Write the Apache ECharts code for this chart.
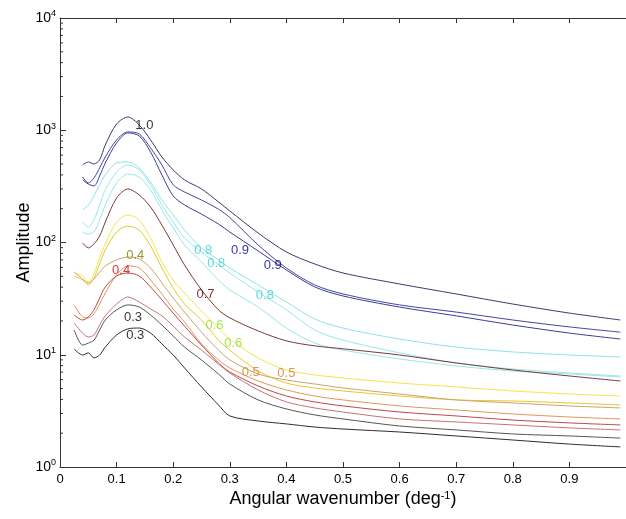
<!DOCTYPE html>
<html>
<head>
<meta charset="utf-8">
<script src="https://cdn.jsdelivr.net/npm/echarts@6/dist/echarts.min.js"></script>
<style>html,body{margin:0;padding:0;background:#fff}#c{width:626px;height:519px}</style>
</head>
<body>
<div id="c"></div>
<script>
// wavenumber grid (deg^-1)
const X = [0.025,0.04,0.05,0.06,0.07,0.08,0.10,0.12,0.14,0.16,0.18,0.20,0.22,0.25,0.28,0.30,0.35,0.40,0.45,0.50,0.60,0.70,0.80,0.90,0.99];
// amplitude series
const s10  = [null,491,522,501,544,740,1137,1313,1114,820,578,443,361,300,230,191,121.5,82.4,64.4,53.5,42.7,34.8,28.3,23.5,20.4];
const s09a = [null,383,339,376,461,578,820,966,927,696,491,326,282,239,198,167,95.1,59.3,41.9,34.8,27.8,24.0,20.4,17.7,15.9];
const s09b = [null,361,332,319,391,511,771,946,890,641,400,260,216,179,146,124,84.1,56.9,40.2,33.4,26.6,22.2,18.4,15.6,13.8];
const s08a = [null,195,216,260,326,400,511,522,461,346,239,176,129,89.4,69.9,59.3,41.9,29.5,20.8,17.3,13.8,11.7,10.6,9.95,9.56];
const s08b = [null,152,137,159,216,294,425,491,443,326,216,152,110,82.4,63.1,53.5,36.2,25.1,16.6,13.5,10.4,8.45,7.47,6.88,6.47];
const s08c = [null,124,119,124,159,216,339,408,383,294,195,135,95.1,67.1,46.4,37.8,26.6,17.3,12.7,11.0,9.17,7.95,7.17,6.74,6.34];
const s07  = [null,99.1,89.4,97.1,114,152,249,300,265,207,143,95.1,63.1,37.8,25.1,21.3,16.3,13.3,12.0,11.3,9.95,8.45,7.32,6.47,5.84];
const s06a = [53.5,50.3,44.5,52.5,72.8,97.1,152,176,159,110,67.1,46.4,35.5,24.5,17.3,13.8,9.37,7.32,6.61,6.21,5.60,5.17,4.76,4.47,4.29];
const s06b = [50.3,46.4,41.9,48.3,64.4,85.8,124,140,129,93.2,59.3,39.3,28.3,20.4,13.5,11.0,7.17,5.60,5.06,4.76,4.29,3.96,3.87,3.72,3.57];
const s04a = [54.6,47.3,43.6,47.3,54.6,61.8,69.9,74.3,71.4,59.3,43.6,32.0,24.0,15.9,11.0,8.99,6.74,5.96,5.49,5.06,4.47,3.96,3.72,3.50,3.36];
const s05a = [27.8,21.7,21.3,23.1,28.3,35.5,51.4,61.8,59.3,46.4,34.8,25.6,19.6,12.5,8.99,7.63,5.84,4.86,4.29,3.96,3.50,3.22,2.97,2.79,2.68];
const s04b = [22.6,20.4,21.7,25.1,32.0,40.2,50.3,53.5,50.3,40.2,30.8,23.5,18.0,12.2,8.45,7.03,5.27,4.29,3.80,3.50,3.09,2.85,2.62,2.47,2.37];
const s05b = [19.2,15.6,14.4,15.0,18.4,22.2,28.3,32.7,29.5,25.6,22.2,18.0,14.4,11.0,8.28,6.88,4.86,3.80,3.36,3.09,2.68,2.52,2.37,2.23,2.14];
const s03a = [16.6,12.2,12.7,13.5,16.6,20.4,25.1,27.8,26.6,22.6,18.4,14.7,11.7,8.99,6.74,5.49,3.96,3.29,2.91,2.68,2.32,2.14,1.97,1.89,1.81];
const s03b = [11.25,9.95,10.4,9.37,9.95,11.7,15.0,17.0,17.3,15.6,12.5,9.95,7.63,5.17,3.57,2.85,2.57,2.42,2.27,2.18,2.05,1.89,1.74,1.60,1.51];

// contour-style labels: text, x, amplitude
const labelText = ['1.0','0.9','0.9','0.8','0.8','0.8','0.7','0.6','0.6','0.5','0.5','0.4','0.4','0.3','0.3'];
const labelX    = [0.149,0.318,0.376,0.253,0.276,0.362,0.257,0.273,0.306,0.337,0.400,0.133,0.108,0.129,0.133];
const labelY    = [1114,85.8,63.1,85.8,65.7,34.1,34.8,18.4,12.5,7.03,6.88,77.5,56.9,21.3,15.0];

const xTicks = [0,0.1,0.2,0.3,0.4,0.5,0.6,0.7,0.8,0.9];
const yDecades = [1,10,100,1000];
const minorMult = [2,3,4,5,6,7,8,9];

const lineDefs = [
  [s10,'#3b3b6e'],[s09a,'#4444a0'],[s09b,'#3c3c96'],
  [s08a,'#8fe3e6'],[s08b,'#96e8ea'],[s08c,'#9ae6e8'],
  [s07,'#7a3838'],[s06a,'#f4e64c'],[s06b,'#e8c828'],
  [s04a,'#caa46e'],[s05a,'#e0975a'],[s04b,'#b84a48'],
  [s05b,'#c47474'],[s03a,'#555555'],[s03b,'#2e2e2e']
];
const labelColor = ['#000000','#000090','#000090','#33d0d0','#33d0d0','#33d0d0','#600000','#8ee028','#8ee028','#d08028','#d08028','#808000','#e00000','#000000','#000000'];

const FONT = 'Liberation Sans, Arial, sans-serif';

const series = lineDefs.map(([vals,col]) => ({
  type:'line', xAxisIndex:0, yAxisIndex:0, smooth:0.3, showSymbol:false, silent:true,
  lineStyle:{color:col,width:1}, z:3,
  data: X.map((x,i)=> vals[i]==null ? null : [x, vals[i]]).filter(d=>d)
}));

series.push({
  type:'scatter', symbolSize:0, silent:true, z:5,
  data: labelText.map((t,i)=>({name:t, value:[labelX[i],labelY[i]],
    label:{show:true, formatter:t, position:'inside', color:labelColor[i], fontSize:13, fontFamily:FONT}}))
});

// minor log ticks on the left axis
const minorVals = [];
yDecades.forEach(d => minorMult.forEach(m => minorVals.push(m*d)));
series.push({
  type:'custom', silent:true, z:6, clip:false,
  data: minorVals.map(v=>[0,v]),
  renderItem:(params, api) => {
    const p = api.coord([api.value(0), api.value(1)]);
    return {type:'line', shape:{x1:p[0], y1:p[1], x2:p[0]+3, y2:p[1]}, style:{stroke:'#333', lineWidth:1}};
  }
});

const chart = echarts.init(document.getElementById('c'), null, {renderer:'canvas'});
chart.setOption({
  backgroundColor:'#ffffff',
  animation:false,
  grid:{left:60, top:18, right:-6, bottom:52, containLabel:false},
  xAxis:[{
    type:'value', min:0, max:1, interval:0.1, position:'bottom',
    axisLine:{show:true, lineStyle:{color:'#333', width:1}},
    axisTick:{show:true, inside:true, length:5, lineStyle:{color:'#333'}},
    splitLine:{show:false},
    axisLabel:{color:'#000', fontSize:13, fontFamily:FONT, margin:6,
      customValues: xTicks, formatter:v=> String(v)},
    name:'Angular wavenumber (deg{s|-1})', nameLocation:'middle', nameGap:23, nameMoveOverlap:false,
    nameTextStyle:{color:'#000', fontSize:18, fontFamily:FONT,
      rich:{s:{fontSize:11, fontFamily:FONT, color:'#000', verticalAlign:'top', padding:[0,0,8,0]}}}
  },{
    type:'value', min:0, max:1, interval:0.1, position:'top',
    axisLine:{show:true, lineStyle:{color:'#333', width:1}},
    axisTick:{show:true, inside:true, length:5, lineStyle:{color:'#333'}},
    axisLabel:{show:false}, splitLine:{show:false}
  }],
  yAxis:[{
    type:'log', logBase:10, min:1, max:10000,
    axisLine:{show:true, lineStyle:{color:'#333', width:1}},
    axisTick:{show:true, inside:true, length:6, lineStyle:{color:'#333'}},
    splitLine:{show:false}, minorTick:{show:false},
    axisLabel:{margin:4, fontFamily:FONT,
      formatter:v=>'{b|10}{s|'+Math.round(Math.log10(v))+'}',
      rich:{b:{fontSize:14, color:'#000', fontFamily:FONT},
            s:{fontSize:9, color:'#000', fontFamily:FONT, verticalAlign:'top', padding:[0,0,8,0]}}},
    name:'Amplitude', nameLocation:'middle', nameGap:27, nameMoveOverlap:false,
    nameTextStyle:{color:'#000', fontSize:18, fontFamily:FONT}
  }],
  series
});
</script>
</body>
</html>
